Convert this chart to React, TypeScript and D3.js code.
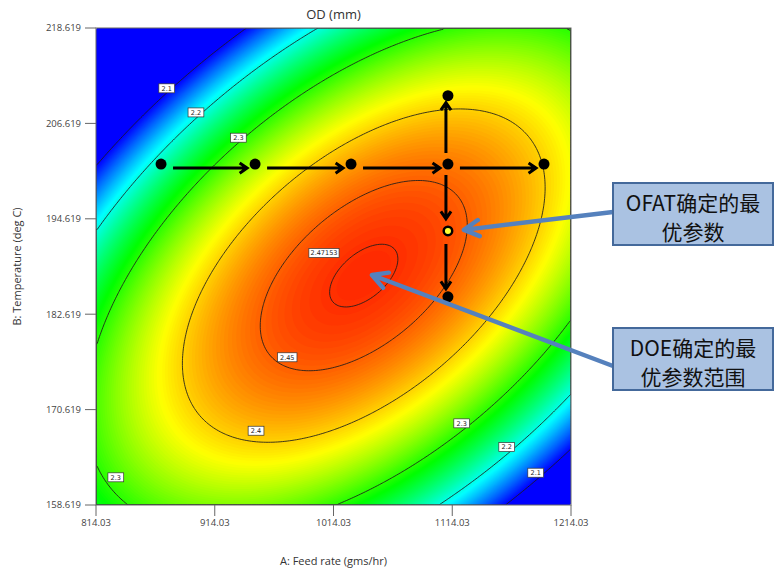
import React, { useMemo } from 'react';
import * as d3 from 'd3';

// factor ranges and ticks
const feedRange = [814.03, 1214.03];
const tempRange = [158.619, 218.619];
const feedTicks = [814.03, 914.03, 1014.03, 1114.03, 1214.03];
const tempTicks = [158.619, 170.619, 182.619, 194.619, 206.619, 218.619];

// quadratic response model for OD (coded units): b0, A, B, AB, A^2, B^2
const modelCoefs = [2.47, 0.0527, -0.042, 0.2034, -0.1763, -0.2105];

// contour lines and their labels
const contourLevels = [2.1, 2.2, 2.3, 2.4, 2.45, 2.47153];
const labelText = ['2.1', '2.2', '2.3', '2.47153', '2.45', '2.4', '2.3', '2.2', '2.1', '2.3'];
const labelFeed = [873.6, 898.2, 933.9, 1006.0, 975.1, 948.8, 1122.0, 1159.9, 1184.3, 830.7];
const labelTemp = [211.03, 208.0, 204.82, 190.32, 177.2, 167.96, 168.89, 165.91, 162.68, 162.1];

// colour ramp
const colorValues = [2.1, 2.19, 2.285, 2.38, 2.474];
const colorRamp = ['#0000ff', '#00ffff', '#00ff00', '#ffff00', '#ff2a00'];

// one-factor-at-a-time runs
const ofatFeed = [868.8, 948.0, 1028.8, 1110.4, 1191.3];
const ofatTemp = 201.5;
const ofatVertFeed = 1110.4;
const ofatVertTemp = [210.1, 201.5, 193.1, 184.8];
const ofatBest = [1110.4, 193.1];
const doeBest = [1046.4, 187.55];

const callouts = [
  { lines: ['OFAT确定的最', '优参数'] },
  { lines: ['DOE确定的最', '优参数范围'] },
];

function od(a: number, b: number) {
  const c = modelCoefs;
  return c[0] + c[1] * a + c[2] * b + c[3] * a * b + c[4] * a * a + c[5] * b * b;
}

function arrow(xa: number, ya: number, xb: number, yb: number, head: number, ang: number) {
  const t = Math.atan2(yb - ya, xb - xa);
  const lx = xb - head * Math.cos(t - ang), ly = yb - head * Math.sin(t - ang);
  const rx = xb - head * Math.cos(t + ang), ry = yb - head * Math.sin(t + ang);
  return `M${xa},${ya}L${xb},${yb}M${lx},${ly}L${xb},${yb}L${rx},${ry}`;
}

export default function App() {
  const W = 779, H = 571;
  const x0 = 96, x1 = 571, y0 = 28, y1 = 505;
  const x = d3.scaleLinear().domain(feedRange).range([x0, x1]);
  const y = d3.scaleLinear().domain(tempRange).range([y1, y0]);
  const color = d3.scaleLinear<string>().domain(colorValues).range(colorRamp).clamp(true);
  const n = 200, m = 200;

  const { bands, lines } = useMemo(() => {
    const fMid = (feedRange[0] + feedRange[1]) / 2, fHalf = (feedRange[1] - feedRange[0]) / 2;
    const tMid = (tempRange[0] + tempRange[1]) / 2, tHalf = (tempRange[1] - tempRange[0]) / 2;
    const values: number[] = new Array(n * m);
    for (let j = 0; j < m; j++) {
      for (let i = 0; i < n; i++) {
        const feed = x.invert(x0 + ((i + 0.5) * (x1 - x0)) / n);
        const temp = y.invert(y0 + ((j + 0.5) * (y1 - y0)) / m);
        values[j * n + i] = od((feed - fMid) / fHalf, (temp - tMid) / tHalf);
      }
    }
    const fillLevels = [1.5, ...d3.range(2.1, 2.476, 0.0025)];
    const bands = d3.contours().size([n, m]).thresholds(fillLevels)(values);
    const lines = d3.contours().size([n, m]).thresholds(contourLevels)(values);
    return { bands, lines };
  }, []);

  const geo = d3.geoPath();
  const gridT = `translate(${x0},${y0}) scale(${(x1 - x0) / n},${(y1 - y0) / m})`;

  const hy = y(ofatTemp) + 4;
  const vx = x(ofatVertFeed) - 2;
  const blackArrows: string[] = [];
  for (let k = 0; k < ofatFeed.length - 1; k++) {
    blackArrows.push(arrow(x(ofatFeed[k]) + 12, hy, x(ofatFeed[k + 1]) - 8, hy, 9, 0.6));
  }
  blackArrows.push(arrow(vx, y(ofatVertTemp[1]) - 11, vx, y(ofatVertTemp[0]) + 7, 9, 0.6));
  blackArrows.push(arrow(vx, y(ofatVertTemp[1]) + 11, vx, y(ofatVertTemp[2]) - 12, 9, 0.6));
  blackArrows.push(arrow(vx, y(ofatVertTemp[2]) + 13, vx, y(ofatVertTemp[3]) - 8, 9, 0.6));

  const boxX = 613, boxW = 160, boxH = 62;
  const boxY = [183, 328];
  const tips = [
    [x(ofatBest[0]) + 16, y(ofatBest[1]) - 1],
    [x(doeBest[0]), y(doeBest[1])],
  ];
  const starts = [
    [boxX, boxY[0] + 29],
    [boxX, boxY[1] + 38],
  ];

  const axisFont = "'Open Sans', 'DejaVu Sans', sans-serif";

  return (
    <svg width={W} height={H} style={{ display: 'block', position: 'absolute', left: 0, top: 0 }}>
      <rect width={W} height={H} fill="#fff" />
      <defs>
        <clipPath id="plotClip">
          <rect x={x0} y={y0} width={x1 - x0} height={y1 - y0} />
        </clipPath>
      </defs>
      <g clipPath="url(#plotClip)">
        <g transform={gridT}>
          {bands.map((b, i) => (
            <path key={i} d={geo(b as any) || ''} fill={color(b.value + 0.00125)} />
          ))}
          {lines.map((l, i) => (
            <path key={'l' + i} d={geo(l as any) || ''} fill="none" stroke="#1c1c1c"
              strokeOpacity={0.85} strokeWidth={1} vectorEffect="non-scaling-stroke" />
          ))}
        </g>
        {labelText.map((t, i) => {
          const w = t.length * 3.6 + 5;
          return (
            <g key={'lab' + i} transform={`translate(${x(labelFeed[i])},${y(labelTemp[i])})`}>
              <rect x={-w / 2} y={-4.5} width={w} height={9} fill="#fff" stroke="#333" strokeWidth={0.7} />
              <text textAnchor="middle" y={2.3} fontSize={6.5} fontFamily="'DejaVu Sans', sans-serif" fill="#222">{t}</text>
            </g>
          );
        })}
      </g>
      <rect x={x0} y={y0} width={x1 - x0} height={y1 - y0} fill="none" stroke="#666" strokeWidth={1} />

      {/* x axis */}
      {feedTicks.map((t, i) => (
        <g key={'xt' + i}>
          <line x1={x(t)} x2={x(t)} y1={y1} y2={y1 + 11} stroke="#666" />
          <text x={x(t)} y={y1 + 21} textAnchor="middle" fontSize={9.5} fill="#444" fontFamily={axisFont}>
            {t.toFixed(2)}
          </text>
        </g>
      ))}
      {/* y axis */}
      {tempTicks.map((t, i) => (
        <g key={'yt' + i}>
          <line x1={x0 - 11} x2={x0} y1={y(t)} y2={y(t)} stroke="#666" />
          <text x={x0 - 15} y={y(t) + 3.3} textAnchor="end" fontSize={9.5} fill="#444" fontFamily={axisFont}>
            {t.toFixed(3)}
          </text>
        </g>
      ))}
      <text x={(x0 + x1) / 2} y={19} textAnchor="middle" fontSize={13} fill="#333" fontFamily={axisFont}>OD (mm)</text>
      <text x={(x0 + x1) / 2} y={565} textAnchor="middle" fontSize={11} fill="#333" fontFamily={axisFont}>A: Feed rate (gms/hr)</text>
      <text transform={`translate(21,${(y0 + y1) / 2}) rotate(-90)`} textAnchor="middle" fontSize={11} fill="#333"
        fontFamily={axisFont}>B: Temperature (deg C)</text>

      {/* OFAT path */}
      {blackArrows.map((d, i) => (
        <path key={'ba' + i} d={d} fill="none" stroke="#000" strokeWidth={3} strokeLinejoin="miter" />
      ))}
      {ofatFeed.map((f, i) => (
        <circle key={'dh' + i} cx={x(f)} cy={y(ofatTemp)} r={5.5} fill="#000" />
      ))}
      {[ofatVertTemp[0], ofatVertTemp[3]].map((t, i) => (
        <circle key={'dv' + i} cx={x(ofatVertFeed)} cy={y(t)} r={5.5} fill="#000" />
      ))}
      <circle cx={x(ofatBest[0])} cy={y(ofatBest[1])} r={5.5} fill="#000" />
      <circle cx={x(ofatBest[0])} cy={y(ofatBest[1])} r={3} fill="#ffff33" />

      {/* callouts */}
      {callouts.map((c, i) => (
        <g key={'c' + i}>
          <path d={arrow(starts[i][0], starts[i][1], tips[i][0], tips[i][1], 17, 0.5)} fill="none"
            stroke="#5581bd" strokeWidth={4.5} strokeLinecap="round" strokeLinejoin="round" />
          <rect x={boxX} y={boxY[i]} width={boxW} height={boxH} fill="#aac2e2" stroke="#44699b" strokeWidth={2} />
          {c.lines.map((ln, k) => (
            <text key={k} x={boxX + boxW / 2} y={boxY[i] + 19 + k * 29} textAnchor="middle" dominantBaseline="central"
              fontSize={21} fill="#111" fontFamily="'Noto Sans CJK SC', 'Noto Sans', sans-serif">{ln}</text>
          ))}
        </g>
      ))}
    </svg>
  );
}
